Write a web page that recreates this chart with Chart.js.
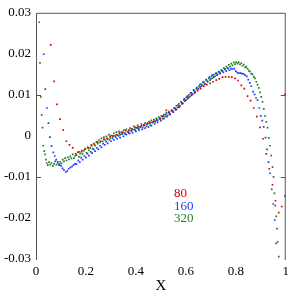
<!DOCTYPE html>
<html>
<head>
<meta charset="utf-8">
<script src="https://cdn.jsdelivr.net/npm/chart.js@4.4.1/dist/chart.umd.min.js"></script>
<style>
  html, body { margin: 0; padding: 0; background: #fff; }
  #grafico { display: block; }
</style>
</head>
<body>
<canvas id="grafico" width="294" height="295"></canvas>
<script>
// etiquetas de los ejes
var xTicks = [0, 0.2, 0.4, 0.6, 0.8, 1];
var xTickLabels = ['0', '0.2', '0.4', '0.6', '0.8', '1'];
var yTicks = [-0.03, -0.02, -0.01, 0, 0.01, 0.02, 0.03];
var yTickLabels = ['-0.03', '-0.02', '-0.01', '0', '0.01', '0.02', '0.03'];
var series = ['80', '160', '320'];
var colores = ['#e00000', '#1a3cff', '#1f7f1f'];

// serie 80
var x80 = [0.059,0.072,0.084,0.096,0.109,0.122,0.134,0.147,0.159,0.172,0.184,0.197,0.209,0.222,0.234,0.247,0.259,0.272,0.284,0.297,
  0.309,0.322,0.334,0.347,0.359,0.372,0.384,0.397,0.409,0.422,0.434,0.447,0.459,0.472,0.484,0.497,0.509,0.522,0.534,0.547,
  0.559,0.572,0.584,0.597,0.609,0.622,0.634,0.647,0.659,0.672,0.684,0.697,0.709,0.722,0.734,0.747,0.759,0.772,0.784,0.797,
  0.809,0.822,0.834,0.847,0.859,0.872,0.884,0.897,0.909,0.922,0.934,0.947,0.959,0.972,0.984,0.997];
var y80 = [0.0222,0.0133,0.0077,0.0041,0.0014,-0.0013,-0.0022,-0.0029,-0.0044,-0.0039,-0.0036,-0.0032,-0.0030,-0.0024,-0.0021,-0.0015,-0.0013,-0.0008,-0.0006,-0.0001,
  0.0000,0.0003,0.0007,0.0009,0.0013,0.0014,0.0017,0.0021,0.0022,0.0025,0.0027,0.0031,0.0033,0.0036,0.0040,0.0043,0.0048,0.0062,0.0057,0.0060,
  0.0064,0.0070,0.0078,0.0085,0.0094,0.0099,0.0104,0.0110,0.0115,0.0121,0.0125,0.0128,0.0132,0.0136,0.0139,0.0143,0.0144,0.0144,0.0143,0.0140,
  0.0135,0.0123,0.0115,0.0097,0.0086,0.0068,0.0047,0.0021,-0.0007,-0.0044,-0.0080,-0.0119,-0.0158,-0.0187,-0.0172,0.0101];

// serie 160
var x160 = [0.031,0.037,0.044,0.050,0.056,0.062,0.069,0.075,0.081,0.087,0.094,0.100,0.106,0.112,0.119,0.125,0.131,0.137,0.144,0.150,
  0.156,0.162,0.169,0.175,0.181,0.187,0.194,0.200,0.206,0.212,0.219,0.225,0.231,0.237,0.244,0.250,0.256,0.262,0.269,0.275,
  0.281,0.287,0.294,0.300,0.306,0.312,0.319,0.325,0.331,0.337,0.344,0.350,0.356,0.362,0.369,0.375,0.381,0.387,0.394,0.400,
  0.406,0.412,0.419,0.425,0.431,0.437,0.444,0.450,0.456,0.462,0.469,0.475,0.481,0.487,0.494,0.500,0.506,0.512,0.519,0.525,
  0.531,0.537,0.544,0.550,0.556,0.562,0.569,0.575,0.581,0.587,0.594,0.600,0.606,0.612,0.619,0.625,0.631,0.637,0.644,0.650,
  0.656,0.662,0.669,0.675,0.681,0.687,0.694,0.700,0.706,0.712,0.719,0.725,0.731,0.737,0.744,0.750,0.756,0.762,0.769,0.775,
  0.781,0.787,0.794,0.800,0.806,0.812,0.819,0.825,0.831,0.837,0.844,0.850,0.856,0.862,0.869,0.875,0.881,0.887,0.894,0.900,
  0.906,0.912,0.919,0.925,0.931,0.937,0.944,0.950,0.956,0.962,0.997];
var y160 = [0.0199,0.0114,0.0068,0.0031,-0.0003,-0.0025,-0.0040,-0.0049,-0.0058,-0.0063,-0.0069,-0.0073,-0.0079,-0.0083,-0.0088,-0.0086,-0.0080,-0.0077,-0.0075,-0.0071,
  -0.0068,-0.0069,-0.0060,-0.0064,-0.0053,-0.0058,-0.0049,-0.0053,-0.0043,-0.0048,-0.0039,-0.0042,-0.0033,-0.0037,-0.0029,-0.0033,-0.0024,-0.0028,-0.0019,-0.0022,
  -0.0014,-0.0018,-0.0010,-0.0013,-0.0006,-0.0010,-0.0003,-0.0007,0.0000,-0.0004,0.0004,-0.0001,0.0007,0.0003,0.0010,0.0006,0.0013,0.0008,0.0016,0.0011,
  0.0019,0.0014,0.0022,0.0016,0.0025,0.0019,0.0028,0.0022,0.0031,0.0025,0.0034,0.0029,0.0038,0.0033,0.0042,0.0037,0.0047,0.0042,0.0052,0.0047,
  0.0056,0.0052,0.0062,0.0058,0.0068,0.0064,0.0075,0.0071,0.0083,0.0079,0.0090,0.0087,0.0097,0.0094,0.0105,0.0101,0.0112,0.0108,0.0118,0.0115,
  0.0125,0.0121,0.0131,0.0127,0.0137,0.0133,0.0143,0.0139,0.0148,0.0144,0.0152,0.0148,0.0156,0.0152,0.0159,0.0155,0.0162,0.0158,0.0164,0.0160,
  0.0164,0.0163,0.0164,0.0158,0.0154,0.0153,0.0153,0.0152,0.0151,0.0148,0.0145,0.0137,0.0129,0.0121,0.0108,0.0101,0.0093,0.0087,0.0068,0.0049,
  0.0037,0.0022,-0.0004,-0.0033,-0.0064,-0.0091,-0.0130,-0.0166,-0.0205,-0.0262,-0.0146];

// serie 320
var x320 = [0.013,0.016,0.019,0.023,0.026,0.029,0.033,0.036,0.040,0.043,
  0.047,0.052,0.057,0.062,0.067,0.072,0.077,0.082,0.087,0.092,0.097,0.102,0.107,0.112,0.117,0.122,0.127,0.132,0.137,0.142,
  0.147,0.152,0.157,0.162,0.167,0.172,0.177,0.182,0.187,0.192,0.197,0.202,0.207,0.212,0.217,0.222,0.227,0.232,0.237,0.242,
  0.247,0.252,0.257,0.262,0.267,0.272,0.277,0.282,0.287,0.292,0.297,0.302,0.307,0.312,0.317,0.322,0.327,0.332,0.337,0.342,
  0.347,0.352,0.357,0.362,0.367,0.372,0.377,0.382,0.387,0.392,0.397,0.402,0.407,0.412,0.417,0.422,0.427,0.432,0.437,0.442,
  0.447,0.452,0.457,0.462,0.467,0.472,0.477,0.482,0.487,0.492,0.497,0.502,0.507,0.512,0.517,0.522,0.527,0.532,0.537,0.542,
  0.547,0.552,0.557,0.562,0.567,0.572,0.577,0.582,0.587,0.592,0.597,0.602,0.607,0.612,0.617,0.622,0.627,0.632,0.637,0.642,
  0.647,0.652,0.657,0.662,0.667,0.672,0.677,0.682,0.687,0.692,0.697,0.702,0.707,0.712,0.717,0.722,0.727,0.732,0.737,0.742,
  0.747,0.752,0.757,0.762,0.767,0.772,0.777,0.782,0.787,0.792,0.797,0.802,0.807,0.812,0.817,0.822,0.827,0.832,0.837,0.842,
  0.847,0.852,0.857,0.862,0.867,0.872,0.877,0.882,0.887,0.892,0.897,0.902,0.907,0.912,0.917,0.922,0.927,0.932,0.937,0.942,
  0.947,0.951,0.955,0.958,0.962,0.965,0.968,0.972];
var y320 = [0.0277,0.0178,0.0095,0.0051,0.0020,-0.0024,-0.0037,-0.0045,-0.0058,-0.0066,
  -0.0071,-0.0064,-0.0070,-0.0066,-0.0073,-0.0068,-0.0062,-0.0070,-0.0066,-0.0071,-0.0063,-0.0067,-0.0058,-0.0062,-0.0054,-0.0060,-0.0052,-0.0057,-0.0050,-0.0055,
  -0.0045,-0.0054,-0.0049,-0.0047,-0.0040,-0.0051,-0.0043,-0.0039,-0.0044,-0.0036,-0.0031,-0.0041,-0.0027,-0.0035,-0.0029,-0.0022,-0.0031,-0.0019,-0.0024,-0.0015,
  -0.0019,-0.0010,-0.0016,-0.0006,-0.0013,-0.0003,-0.0010,-0.0001,-0.0008,0.0003,-0.0005,0.0001,-0.0002,0.0006,0.0000,0.0009,0.0002,0.0011,0.0003,0.0009,
  0.0006,0.0014,0.0004,0.0016,0.0010,0.0007,0.0019,0.0012,0.0015,0.0023,0.0014,0.0020,0.0026,0.0017,0.0022,0.0029,0.0020,0.0027,0.0031,0.0023,
  0.0029,0.0035,0.0026,0.0038,0.0032,0.0040,0.0034,0.0043,0.0037,0.0046,0.0041,0.0049,0.0042,0.0052,0.0047,0.0056,0.0050,0.0059,0.0053,0.0062,
  0.0060,0.0068,0.0066,0.0073,0.0069,0.0078,0.0073,0.0083,0.0080,0.0088,0.0085,0.0094,0.0090,0.0100,0.0096,0.0105,0.0101,0.0110,0.0106,0.0115,
  0.0113,0.0121,0.0119,0.0126,0.0123,0.0131,0.0127,0.0136,0.0132,0.0140,0.0136,0.0145,0.0141,0.0149,0.0145,0.0153,0.0150,0.0157,0.0154,0.0161,
  0.0158,0.0165,0.0163,0.0169,0.0166,0.0173,0.0169,0.0176,0.0172,0.0179,0.0175,0.0180,0.0176,0.0179,0.0174,0.0177,0.0171,0.0174,0.0167,0.0169,
  0.0164,0.0159,0.0157,0.0152,0.0150,0.0144,0.0140,0.0132,0.0125,0.0117,0.0106,0.0095,0.0083,0.0066,0.0049,0.0034,0.0020,-0.0005,-0.0024,-0.0048,
  -0.0076,-0.0100,-0.0140,-0.0170,-0.0196,-0.0226,-0.0258,-0.0294];

function puntos(xs, ys) {
  var p = [];
  for (var i = 0; i < xs.length; i++) {
    p.push({ x: xs[i], y: ys[i] });
  }
  return p;
}

var fuente = '"Liberation Serif", "Times New Roman", serif';

// marco (izquierda, arriba, derecha), marcas en +-0.01, leyenda de texto
var marco = {
  id: 'marco',
  afterDraw: function (chart) {
    var ctx = chart.ctx, a = chart.chartArea, sy = chart.scales.y;
    ctx.save();
    ctx.strokeStyle = '#555';
    ctx.lineWidth = 1;
    ctx.beginPath();
    ctx.moveTo(a.left + 0.5, a.bottom + 1);
    ctx.lineTo(a.left + 0.5, a.top + 0.5);
    ctx.lineTo(a.right - 0.5, a.top + 0.5);
    ctx.lineTo(a.right - 0.5, a.bottom + 1);
    [0.01, -0.01].forEach(function (v) {
      var py = Math.round(sy.getPixelForValue(v)) + 0.5;
      ctx.moveTo(a.left, py); ctx.lineTo(a.left + 5, py);
      ctx.moveTo(a.right, py); ctx.lineTo(a.right - 5, py);
    });
    ctx.stroke();

    ctx.font = '13px ' + fuente;
    ctx.textBaseline = 'middle';
    ctx.textAlign = 'left';
    for (var i = 0; i < series.length; i++) {
      ctx.fillStyle = colores[i];
      ctx.fillText(series[i], 174, 194 + i * 12.5);
    }
    ctx.restore();
  }
};

var datos = {
  datasets: [
    { label: series[0], data: puntos(x80, y80) },
    { label: series[1], data: puntos(x160, y160) },
    { label: series[2], data: puntos(x320, y320) }
  ].map(function (d, i) {
    d.backgroundColor = colores[i];
    d.borderWidth = 0;
    d.pointStyle = 'rect';
    d.pointRadius = 1.2;
    return d;
  })
};

new Chart(document.getElementById('grafico'), {
  type: 'scatter',
  data: datos,
  plugins: [marco],
  options: {
    responsive: false,
    animation: false,
    devicePixelRatio: 1,
    layout: { padding: { top: 10, right: 7, left: 0, bottom: 0 } },
    plugins: { legend: { display: false }, tooltip: { enabled: false } },
    scales: {
      x: {
        type: 'linear', min: 0, max: 1,
        grid: { display: false, drawTicks: false },
        border: { display: false },
        afterBuildTicks: function (s) { s.ticks = xTicks.map(function (v) { return { value: v }; }); },
        afterFit: function (s) { s.height = 36; },
        ticks: {
          color: '#000', padding: 5, maxRotation: 0, autoSkip: false,
          font: { family: fuente, size: 13 },
          callback: function (v) { return xTickLabels[xTicks.indexOf(v)]; }
        },
        title: { display: true, text: 'X', color: '#000', padding: 0, font: { family: fuente, size: 15 } }
      },
      y: {
        type: 'linear', min: -0.03, max: 0.03,
        grid: { display: false, drawTicks: false },
        border: { display: false },
        afterBuildTicks: function (s) { s.ticks = yTicks.map(function (v) { return { value: v }; }); },
        afterFit: function (s) { s.width = 36; },
        ticks: {
          color: '#000', padding: 5, autoSkip: false,
          font: { family: fuente, size: 13 },
          callback: function (v) { return yTickLabels[yTicks.indexOf(v)]; }
        }
      }
    }
  }
});
</script>
</body>
</html>
